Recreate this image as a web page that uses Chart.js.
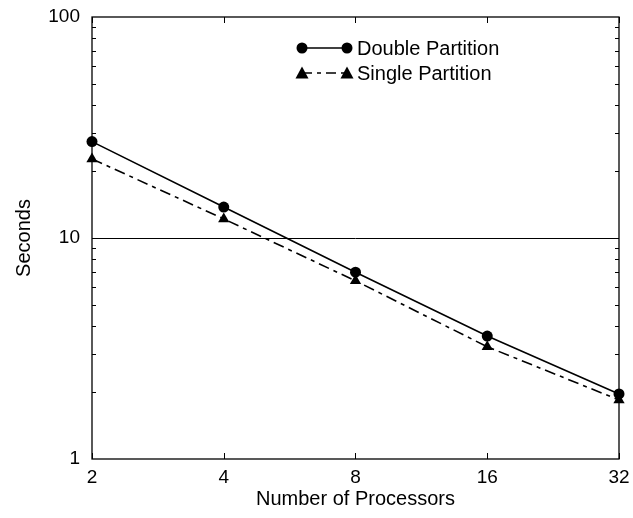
<!DOCTYPE html>
<html>
<head>
<meta charset="utf-8">
<script src="https://cdn.jsdelivr.net/npm/chart.js@4.4.1/dist/chart.umd.min.js"></script>
<style>
  html, body { margin: 0; padding: 0; background: #fff; }
  #wrap { width: 633px; height: 518px; }
</style>
</head>
<body>
<div id="wrap"><canvas id="perfChart" width="633" height="518"></canvas></div>
<script>
// data
const processors = [2, 4, 8, 16, 32];
const doublePartition = [27.3, 13.8, 7.0, 3.6, 1.97];
const singlePartition = [22.8, 12.2, 6.4, 3.22, 1.85];
const xTicks = [2, 4, 8, 16, 32];
const yLabelTicks = [1, 10, 100];
const yMinorTicks = [2, 3, 4, 5, 6, 7, 8, 9, 20, 30, 40, 50, 60, 70, 80, 90];

const FONT = 'Arial, "Liberation Sans", sans-serif';
const dashDot = [11, 5, 4, 5];

// frame, inward ticks and the in-plot legend
const framePlugin = {
  id: 'frame',
  afterDatasetsDraw(chart) {
    const { ctx, chartArea: a, scales } = chart;
    const xs = scales.x, ys = scales.y;
    ctx.save();
    ctx.strokeStyle = '#000';
    ctx.lineWidth = 1.3;
    ctx.strokeRect(a.left, a.top, a.right - a.left, a.bottom - a.top);

    ctx.lineWidth = 1;
    ctx.beginPath();
    for (const v of xTicks) {
      const px = Math.round(xs.getPixelForValue(v)) + 0.5;
      ctx.moveTo(px, a.bottom); ctx.lineTo(px, a.bottom - 6);
      ctx.moveTo(px, a.top); ctx.lineTo(px, a.top + 6);
    }
    for (const v of yMinorTicks) {
      const py = Math.round(ys.getPixelForValue(v)) + 0.5;
      ctx.moveTo(a.left, py); ctx.lineTo(a.left + 4, py);
      ctx.moveTo(a.right, py); ctx.lineTo(a.right - 4, py);
    }
    ctx.stroke();

    // legend
    const lx0 = 302, lx1 = 347;
    const rows = [
      { y: 48, label: 'Double Partition', dash: [], marker: 'circle' },
      { y: 73, label: 'Single Partition', dash: [10, 5, 4, 5], marker: 'triangle' }
    ];
    ctx.font = '20px ' + FONT;
    ctx.textBaseline = 'middle';
    ctx.fillStyle = '#000';
    for (const r of rows) {
      ctx.setLineDash(r.dash);
      ctx.lineWidth = 1.6;
      ctx.beginPath();
      ctx.moveTo(lx0, r.y); ctx.lineTo(lx1, r.y);
      ctx.stroke();
      ctx.setLineDash([]);
      for (const mx of [lx0, lx1]) {
        ctx.beginPath();
        if (r.marker === 'circle') {
          ctx.arc(mx, r.y, 5.5, 0, Math.PI * 2);
        } else {
          ctx.moveTo(mx, r.y - 6.5);
          ctx.lineTo(mx + 6.5, r.y + 5.5);
          ctx.lineTo(mx - 6.5, r.y + 5.5);
          ctx.closePath();
        }
        ctx.fill();
      }
      ctx.fillText(r.label, 357, r.y + 1);
    }
    ctx.restore();
  }
};

new Chart(document.getElementById('perfChart'), {
  type: 'line',
  data: {
    datasets: [
      {
        label: 'Double Partition',
        data: processors.map((p, i) => ({ x: p, y: doublePartition[i] })),
        borderColor: '#000',
        backgroundColor: '#000',
        borderWidth: 1.6,
        pointStyle: 'circle',
        pointRadius: 5.5,
        pointBorderWidth: 0,
        tension: 0
      },
      {
        label: 'Single Partition',
        data: processors.map((p, i) => ({ x: p, y: singlePartition[i] })),
        borderColor: '#000',
        backgroundColor: '#000',
        borderWidth: 1.6,
        borderDash: dashDot,
        pointStyle: 'triangle',
        pointRadius: 6.5,
        pointBorderWidth: 0,
        tension: 0
      }
    ]
  },
  options: {
    responsive: false,
    animation: false,
    clip: false,
    layout: { padding: { top: 17, right: 14, left: 0, bottom: 7 } },
    plugins: {
      legend: { display: false },
      tooltip: { enabled: false }
    },
    scales: {
      x: {
        type: 'logarithmic',
        min: 2,
        max: 32,
        afterBuildTicks(scale) { scale.ticks = xTicks.map(v => ({ value: v })); },
        afterFit(scale) {
          scale.height = 52;
          scale.paddingLeft = 0;
          scale.paddingRight = 0;
        },
        grid: { display: false, drawTicks: false },
        border: { display: false },
        ticks: {
          color: '#000',
          font: { family: FONT, size: 19 },
          padding: 7,
          maxRotation: 0,
          autoSkip: false,
          callback: v => String(v)
        },
        title: {
          display: true,
          text: 'Number of Processors',
          color: '#000',
          font: { family: FONT, size: 20 },
          padding: { top: 0, bottom: 0 }
        }
      },
      y: {
        type: 'logarithmic',
        min: 1,
        max: 100,
        afterBuildTicks(scale) { scale.ticks = yLabelTicks.map(v => ({ value: v })); },
        afterFit(scale) {
          scale.width = 92;
          scale.paddingTop = 0;
          scale.paddingBottom = 0;
        },
        grid: {
          drawTicks: false,
          color: ctx => (ctx.tick && ctx.tick.value === 10 ? '#000' : 'rgba(0,0,0,0)'),
          lineWidth: 1
        },
        border: { display: false },
        ticks: {
          color: '#000',
          font: { family: FONT, size: 19 },
          padding: 12,
          autoSkip: false,
          callback: v => String(v)
        },
        title: {
          display: true,
          text: 'Seconds',
          color: '#000',
          font: { family: FONT, size: 20 },
          padding: { top: 12, bottom: 0 }
        }
      }
    }
  },
  plugins: [framePlugin]
});
</script>
</body>
</html>
